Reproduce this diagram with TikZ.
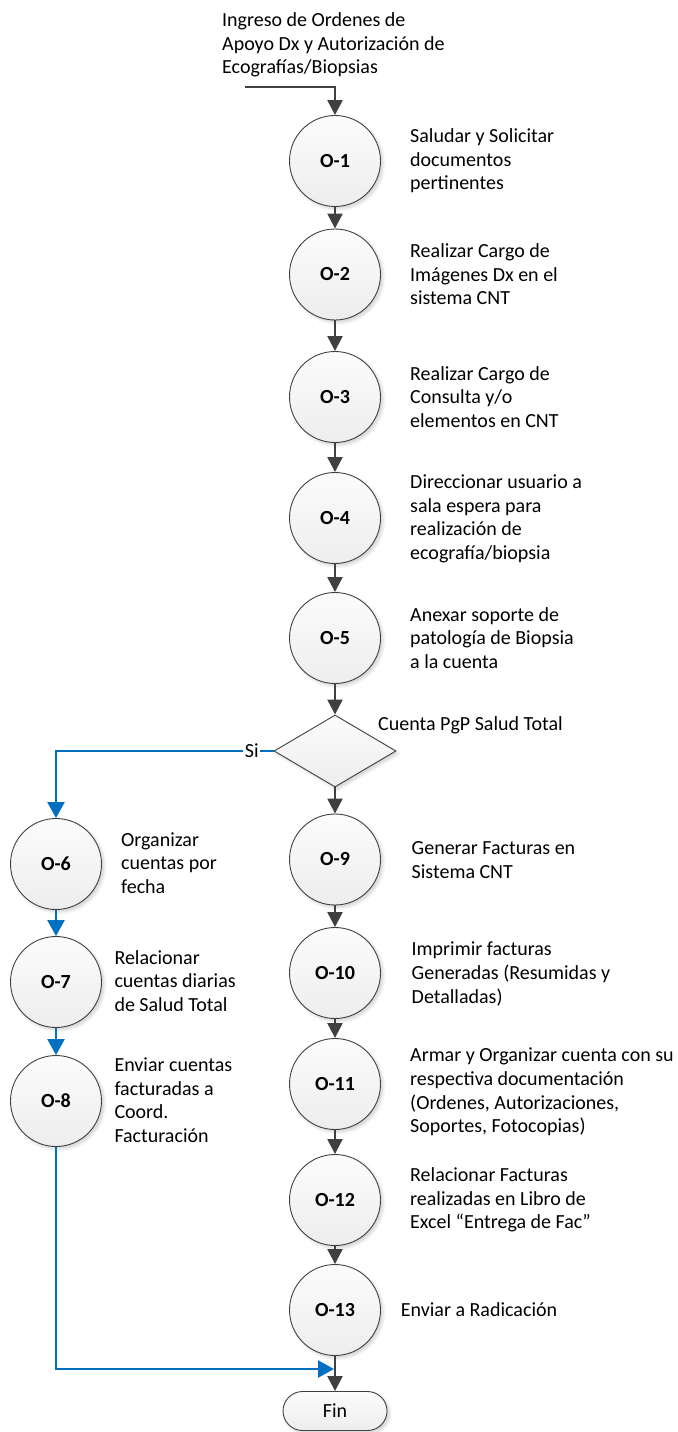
\documentclass[tikz,border=0pt]{standalone}
\usepackage{fontspec}
\setmainfont{Carlito}
\usetikzlibrary{arrows.meta,shapes.geometric,shapes.misc,shadows.blur}
\definecolor{edge}{HTML}{404040}
\definecolor{flowblue}{HTML}{0070C0}
\definecolor{fillhi}{HTML}{FCFCFC}
\definecolor{filllo}{HTML}{EDEDED}

\begin{document}
\begin{tikzpicture}[x=1bp,y=-1bp,
  every node/.style={font=\fontsize{20bp}{23.6bp}\selectfont, inner sep=0pt},
  softshadow/.style={blur shadow={shadow xshift=2.5bp, shadow yshift=-2.5bp,
      shadow blur radius=3bp, shadow blur steps=6, shadow opacity=18}},
  stepnode/.style={circle, draw=edge, line width=0.9bp, minimum size=91bp,
      top color=fillhi, bottom color=filllo, softshadow,
      font=\fontsize{20bp}{23.6bp}\selectfont\bfseries},
  decision/.style={diamond, draw=edge, line width=0.9bp, minimum width=122bp,
      minimum height=72bp, top color=fillhi, bottom color=filllo, softshadow},
  endnode/.style={rounded rectangle, draw=edge, line width=0.9bp,
      minimum width=104bp, minimum height=39bp, top color=fillhi,
      bottom color=filllo, softshadow},
  desc/.style={anchor=west, align=left},
  grayflow/.style={draw=edge, line width=2.3bp,
      -{Triangle[width=15bp,length=15bp]}},
  blueflow/.style={draw=flowblue, line width=2.5bp,
      -{Triangle[width=17bp,length=16bp]}},
  bluelabel/.style={fill=white, inner sep=1.5bp}]

\useasboundingbox (0,0) rectangle (678,1432);

% main column of operations
\node[stepnode] (O1) at (335,161) {O-1};
\node[stepnode] (O2) at (335,274.5) {O-2};
\node[stepnode] (O3) at (335,397) {O-3};
\node[stepnode] (O4) at (335,518) {O-4};
\node[stepnode] (O5) at (335,638) {O-5};
\node[decision] (D) at (335,751) {};
\node[stepnode] (O9) at (335,859.5) {O-9};
\node[stepnode] (O10) at (335,973) {O-10};
\node[stepnode] (O11) at (335,1084) {O-11};
\node[stepnode] (O12) at (335,1200) {O-12};
\node[stepnode] (O13) at (335,1310) {O-13};
\node[endnode] (Fin) at (335,1411) {Fin};

% branch for Salud Total accounts
\node[stepnode] (O6) at (56,864) {O-6};
\node[stepnode] (O7) at (56,982) {O-7};
\node[stepnode] (O8) at (56,1101) {O-8};

% descriptions
\node[desc] (tIn) at (222,45) {Ingreso de Ordenes de\\Apoyo Dx y Autorización de\\Ecografías/Biopsias};
\node[desc] (t1) at (410,161) {Saludar y Solicitar\\documentos\\pertinentes};
\node[desc] (t2) at (410,274.5) {Realizar Cargo de\\Imágenes Dx en el\\sistema CNT};
\node[desc] (t3) at (410,397) {Realizar Cargo de\\Consulta y/o\\elementos en CNT};
\node[desc] (t4) at (410,519) {Direccionar usuario a\\sala espera para\\realización de\\ecografía/biopsia};
\node[desc] (t5) at (410,638) {Anexar soporte de\\patología de Biopsia\\a la cuenta};
\node[desc] (tD) at (378,725) {Cuenta PgP Salud Total};
\node[desc] (t9) at (411.5,860) {Generar Facturas en\\Sistema CNT};
\node[desc] (t10) at (411.5,974) {Imprimir facturas\\Generadas (Resumidas y\\Detalladas)};
\node[desc] (t11) at (410,1092) {Armar y Organizar cuenta con su\\respectiva documentación\\(Ordenes, Autorizaciones,\\Soportes, Fotocopias)};
\node[desc] (t12) at (410,1200) {Relacionar Facturas\\realizadas en Libro de\\Excel “Entrega de Fac”};
\node[desc] (t13) at (400.7,1310) {Enviar a Radicación};
\node[desc] (t6) at (121,863) {Organizar\\cuentas por\\fecha};
\node[desc] (t7) at (114.3,981) {Relacionar\\cuentas diarias\\de Salud Total};
\node[desc] (t8) at (114.3,1100) {Enviar cuentas\\facturadas a\\Coord.\\Facturación};

% free ends of connectors
\coordinate (src) at (245,87);
\coordinate (join) at (334,1369);

% gray flow
\draw[grayflow] (src) -| (O1.north);
\draw[grayflow] (O1) -- (O2);
\draw[grayflow] (O2) -- (O3);
\draw[grayflow] (O3) -- (O4);
\draw[grayflow] (O4) -- (O5);
\draw[grayflow] (O5) -- (D.north);
\draw[grayflow] (D.south) -- (O9);
\draw[grayflow] (O9) -- (O10);
\draw[grayflow] (O10) -- (O11);
\draw[grayflow] (O11) -- (O12);
\draw[grayflow] (O12) -- (O13);
\draw[grayflow] (O13) -- (Fin.north);

% blue flow
\draw[blueflow] (D.west) -| node[pos=0.05, bluelabel] (si) {Si} (O6.north);
\draw[blueflow] (O6) -- (O7);
\draw[blueflow] (O7) -- (O8);
\draw[blueflow] (O8.south) |- (join);

\end{tikzpicture}
\end{document}
